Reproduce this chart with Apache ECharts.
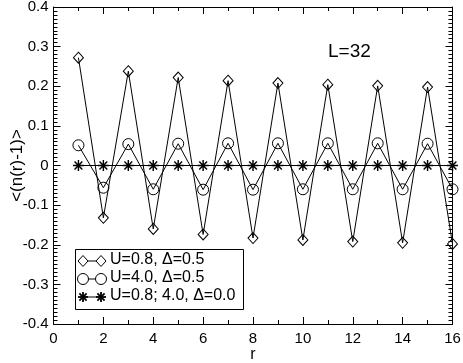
<!DOCTYPE html>
<html>
<head>
<meta charset="utf-8">
<script src="https://cdn.jsdelivr.net/npm/echarts@6/dist/echarts.min.js"></script>
<style>html,body{margin:0;padding:0;background:#fff}#c{width:463px;height:363px}</style>
</head>
<body>
<div id="c"></div>
<script>
var rValues = [1,2,3,4,5,6,7,8,9,10,11,12,13,14,15,16];
var diamondVals = [0.272,-0.132,0.238,-0.160,0.222,-0.174,0.214,-0.183,0.208,-0.188,0.204,-0.192,0.201,-0.195,0.198,-0.198];
var circleVals = [0.051,-0.056,0.054,-0.060,0.055,-0.061,0.056,-0.061,0.056,-0.060,0.056,-0.060,0.056,-0.060,0.055,-0.060];
var starVals = [0,0,0,0,0,0,0,0,0,0,0,0,0,0,0,0];
var seriesNames = ['U=0.8, \u0394=0.5','U=4.0, \u0394=0.5','U=0.8; 4.0, \u0394=0.0'];
var xTicks = {min:0, max:16, interval:2};
var yTicks = {min:-0.4, max:0.4, interval:0.1};

var STAR = 'path://M-0.13,-1L0.13,-1L0.13,1L-0.13,1Z M-1,-0.13L1,-0.13L1,0.13L-1,0.13Z M-0.615,-0.799L0.799,0.615L0.615,0.799L-0.799,-0.615Z M0.799,-0.615L-0.615,0.799L-0.799,0.615L0.615,-0.799Z';

function pairs(vals){ return rValues.map(function(r,i){return [r, vals[i]];}); }

var font = 'Liberation Sans, Arial, sans-serif';
function xAxisDef(pos, show){
  return {type:'value', position:pos, min:xTicks.min, max:xTicks.max, interval:xTicks.interval,
    axisLine:{show:true, onZero:false, lineStyle:{color:'#000', width:1}},
    axisTick:{show:true, inside:true, length:7, lineStyle:{color:'#000'}},
    minorTick:{show:true, splitNumber:2, length:4, lineStyle:{color:'#000'}},
    splitLine:{show:false},
    axisLabel:{show:show, color:'#000', fontSize:15, fontFamily:font, margin:7},
    name: show ? 'r' : '', nameLocation:'middle', nameGap:23, nameMoveOverlap:false,
    nameTextStyle:{color:'#000', fontSize:16, fontFamily:font}};
}
function yAxisDef(pos, show){
  return {type:'value', position:pos, min:yTicks.min, max:yTicks.max, interval:yTicks.interval,
    axisLine:{show:true, onZero:false, lineStyle:{color:'#000', width:1}},
    axisTick:{show:true, inside:true, length:7, lineStyle:{color:'#000'}},
    minorTick:{show:true, splitNumber:10, length:4, lineStyle:{color:'#000'}},
    splitLine:{show:false},
    axisLabel:{show:show, color:'#000', fontSize:15, fontFamily:font, margin:5,
      formatter:function(v){ var s = Math.round(v*10)/10; return s===0?'0':String(s); }},
    name: show ? '<(n(r)-1)>' : '', nameLocation:'middle', nameGap:28, nameRotate:90, nameMoveOverlap:false,
    nameTextStyle:{color:'#000', fontSize:17, fontFamily:font}};
}

function starGraphic(cx, cy){
  var r = 5, d = 3.6, out = [];
  var segs = [[0,-r,0,r],[-r,0,r,0],[-d,-d,d,d],[d,-d,-d,d]];
  segs.forEach(function(s){
    out.push({type:'line', shape:{x1:cx+s[0], y1:cy+s[1], x2:cx+s[2], y2:cy+s[3]}, style:{stroke:'#000', lineWidth:1.8}, z:12});
  });
  return out;
}

var chart = echarts.init(document.getElementById('c'), null, {renderer:'canvas'});
var lineStyle = {color:'#000', width:1};
var lx1 = 83, lx2 = 101, ltx = 110, rows = [261, 279, 297];
var txtFont = '16px Liberation Sans, Arial, sans-serif';
var graphics = [
  {type:'text', x:328, y:42, style:{text:'L=32', fill:'#000', font:'19px Liberation Sans, Arial, sans-serif'}},
  {type:'rect', shape:{x:75.5, y:249.5, width:168, height:60}, style:{fill:'#fff', stroke:'#000', lineWidth:1}, z:10},
  {type:'line', shape:{x1:lx1, y1:rows[0], x2:lx2, y2:rows[0]}, style:{stroke:'#000', lineWidth:1}, z:11},
  {type:'polygon', shape:{points:[[lx1,rows[0]-5.5],[lx1+5,rows[0]],[lx1,rows[0]+5.5],[lx1-5,rows[0]]]}, style:{fill:'#fff', stroke:'#000', lineWidth:1}, z:12},
  {type:'polygon', shape:{points:[[lx2,rows[0]-5.5],[lx2+5,rows[0]],[lx2,rows[0]+5.5],[lx2-5,rows[0]]]}, style:{fill:'#fff', stroke:'#000', lineWidth:1}, z:12},
  {type:'text', x:ltx, y:rows[0]-9, style:{text:seriesNames[0], fill:'#000', font:txtFont}, z:12},
  {type:'line', shape:{x1:lx1, y1:rows[1], x2:lx2, y2:rows[1]}, style:{stroke:'#000', lineWidth:1}, z:11},
  {type:'circle', shape:{cx:lx1, cy:rows[1], r:5.5}, style:{fill:'#fff', stroke:'#000', lineWidth:1}, z:12},
  {type:'circle', shape:{cx:lx2, cy:rows[1], r:5.5}, style:{fill:'#fff', stroke:'#000', lineWidth:1}, z:12},
  {type:'text', x:ltx, y:rows[1]-9, style:{text:seriesNames[1], fill:'#000', font:txtFont}, z:12},
  {type:'line', shape:{x1:lx1, y1:rows[2], x2:lx2, y2:rows[2]}, style:{stroke:'#000', lineWidth:1}, z:11},
  {type:'text', x:ltx, y:rows[2]-9, style:{text:seriesNames[2], fill:'#000', font:txtFont}, z:12}
].concat(starGraphic(lx1, rows[2])).concat(starGraphic(lx2, rows[2]));

chart.setOption({
  animation:false,
  backgroundColor:'#fff',
  grid:{left:53.5, right:10.5, top:7, bottom:39, containLabel:false, outerBoundsMode:'none'},
  xAxis:[xAxisDef('bottom', true), xAxisDef('top', false)],
  yAxis:[yAxisDef('left', true), yAxisDef('right', false)],
  series:[
    {name:seriesNames[0], type:'line', data:pairs(diamondVals), symbol:'diamond', symbolSize:[10,11],
      lineStyle:lineStyle, itemStyle:{color:'rgba(0,0,0,0)', borderColor:'#000', borderWidth:1}, z:3},
    {name:seriesNames[1], type:'line', data:pairs(circleVals), symbol:'circle', symbolSize:11,
      lineStyle:lineStyle, itemStyle:{color:'rgba(0,0,0,0)', borderColor:'#000', borderWidth:1}, z:3},
    {name:seriesNames[2], type:'line', data:pairs(starVals), symbol:STAR, symbolSize:11,
      lineStyle:lineStyle, itemStyle:{color:'#000', borderColor:'#000', borderWidth:0}, z:4}
  ],
  graphic:graphics
});
</script>
</body>
</html>
